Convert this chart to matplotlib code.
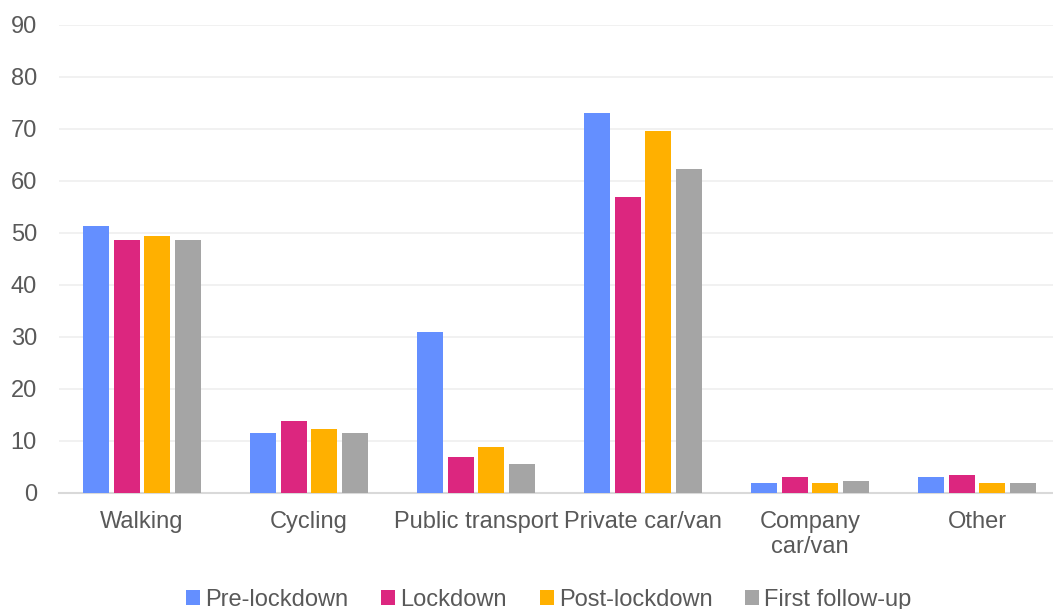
import matplotlib.pyplot as plt
import numpy as np

categories = ["Walking", "Cycling", "Public transport", "Private car/van", "Company\ncar/van", "Other"]
series_names = ["Pre-lockdown", "Lockdown", "Post-lockdown", "First follow-up"]
pre_lockdown = [51.3, 11.4, 30.8, 72.9, 1.8, 3.0]
lockdown = [48.5, 13.8, 6.8, 56.8, 3.0, 3.4]
post_lockdown = [49.4, 12.2, 8.8, 69.5, 1.8, 1.8]
first_follow_up = [48.5, 11.4, 5.5, 62.2, 2.2, 1.8]
colors = ["#648FFF", "#DC267F", "#FFB000", "#A5A5A5"]

plt.rcParams['font.family'] = ['Liberation Sans', 'DejaVu Sans']
txt = "#595959"

fig = plt.figure(figsize=(10.53, 6.09), dpi=100)
ax = fig.add_axes([58.5 / 1053, 1 - 492.5 / 609, 1002 / 1053, 468 / 609])

x = np.arange(len(categories))
w = 0.156
pitch = 0.183
all_series = [pre_lockdown, lockdown, post_lockdown, first_follow_up]
for i, (vals, name, c) in enumerate(zip(all_series, series_names, colors)):
    ax.bar(x + (i - 1.5) * pitch, vals, w, color=c, label=name, zorder=3)

ax.set_xlim(-0.5, len(categories) - 0.5)
ax.set_ylim(0, 90)
ax.set_yticks(np.arange(0, 91, 10))
ax.yaxis.grid(True, color="#f0f0f0", linewidth=1.3, zorder=0)
ax.set_xticks(x)
ax.set_xticklabels(categories)
for s in ["top", "right", "left"]:
    ax.spines[s].set_visible(False)
ax.spines["bottom"].set_color("#d9d9d9")
ax.spines["bottom"].set_linewidth(1.5)
ax.tick_params(axis="both", length=0, labelsize=17, labelcolor=txt)
ax.tick_params(axis="y", pad=15.5)
ax.tick_params(axis="x", pad=13)
for lbl in ax.get_yticklabels():
    lbl.set_horizontalalignment("right")

leg = ax.legend(loc="center", bbox_to_anchor=(0.5 - 10.5 / 1002, -0.229), ncol=4, frameon=False,
                fontsize=17, handlelength=0.59, handleheight=0.6, handletextpad=0.21,
                columnspacing=1.4, borderaxespad=0)
for t in leg.get_texts():
    t.set_color(txt)

plt.savefig("out.png", dpi=100)
